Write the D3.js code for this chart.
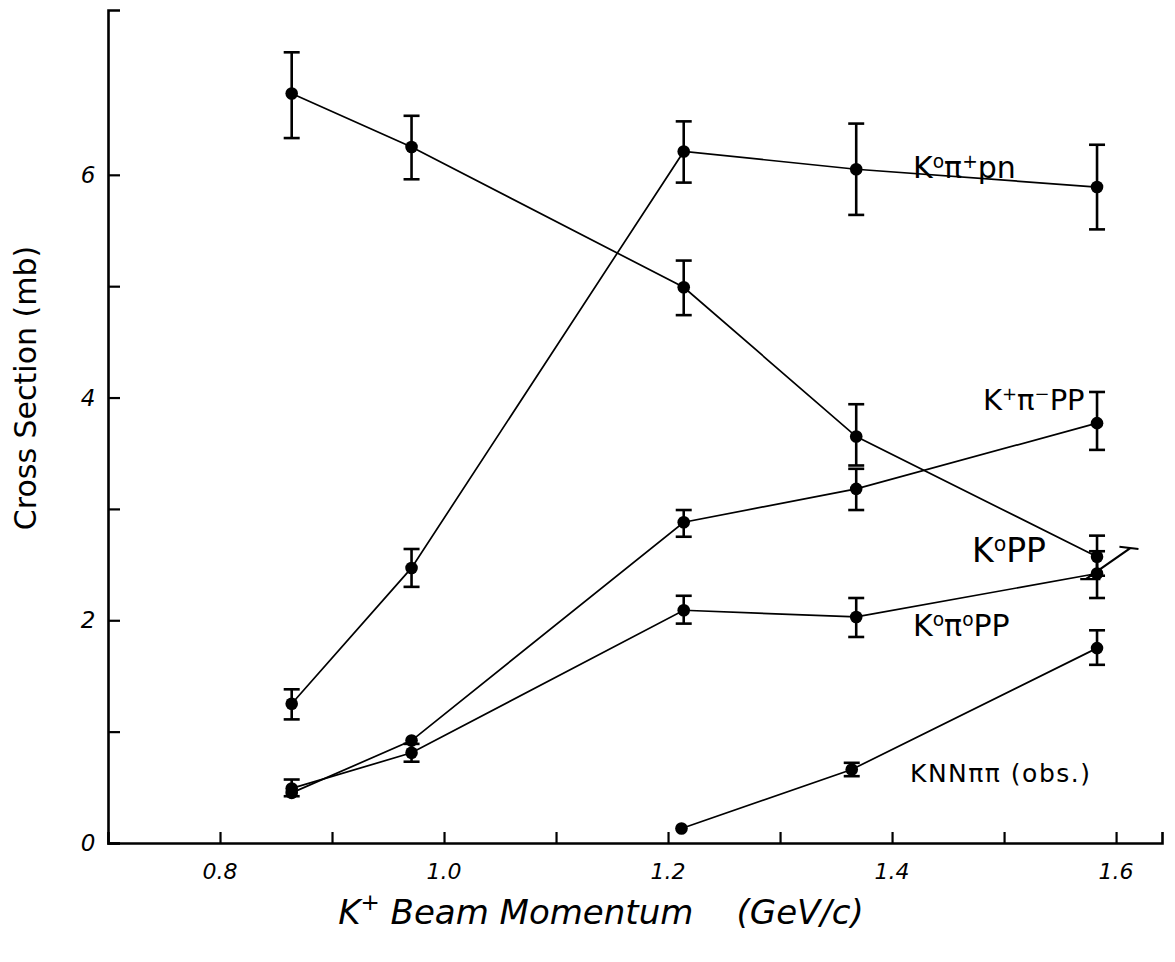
<!DOCTYPE html>
<html>
<head>
<meta charset="utf-8">
<script src="https://cdn.jsdelivr.net/npm/d3@7"></script>
<style>
  html, body { margin: 0; padding: 0; background: #fff; }
  svg { display: block; }
  text { fill: #000; font-family: "DejaVu Sans", sans-serif; white-space: pre; }
</style>
</head>
<body>
<svg id="chart" width="1175" height="962"></svg>
<script>
// Beam momentum of each exposure (GeV/c)
const momentum = [0.864, 0.971, 1.214, 1.368, 1.583];
const momentumHigh = [1.212, 1.364, 1.583];

// Cross sections (mb) with lower / upper ends of the error bars
const k0pp      = [6.73, 6.25, 4.99, 3.65, 2.57];
const k0ppLo    = [6.33, 5.96, 4.74, 3.39, 2.40];
const k0ppHi    = [7.10, 6.53, 5.23, 3.94, 2.76];

const k0pipn    = [1.25, 2.47, 6.21, 6.05, 5.89];
const k0pipnLo  = [1.11, 2.30, 5.93, 5.64, 5.51];
const k0pipnHi  = [1.38, 2.64, 6.48, 6.46, 6.27];

const kpimpp    = [0.45, 0.92, 2.88, 3.18, 3.77];
const kpimppLo  = [null, null, 2.75, 2.99, 3.53];
const kpimppHi  = [null, null, 2.99, 3.36, 4.05];

const k0pi0pp   = [0.49, 0.81, 2.09, 2.03, 2.42];
const k0pi0ppLo = [0.42, 0.73, 1.97, 1.85, 2.20];
const k0pi0ppHi = [0.57, 0.89, 2.22, 2.20, 2.62];

const knnpipi   = [0.13, 0.66, 1.75];
const knnpipiLo = [null, 0.60, 1.60];
const knnpipiHi = [null, 0.72, 1.91];

// Axis ticks and labels
const xTicks = [0.8, 0.9, 1.0, 1.1, 1.2, 1.3, 1.4, 1.5, 1.6];
const xTickLabels = ["0.8", "1.0", "1.2", "1.4", "1.6"];
const yTicks = [0, 1, 2, 3, 4, 5, 6];
const yTickLabels = ["0", "2", "4", "6"];

const svg = d3.select("#chart");

// Scales: 0.8 GeV/c at x=220, 0.1 GeV/c = 112 px; 1 mb = 111.3 px
const x = d3.scaleLinear().domain([0.7, 1.641]).range([108, 1162]);
const y = d3.scaleLinear().domain([0, 7.48]).range([843, 10]);

// Axes (ticks drawn inward, as on the hand-drawn plot)
const xAxis = d3.axisTop(x).tickValues(xTicks).tickSize(11).tickFormat("");
const yAxis = d3.axisRight(y).tickValues(yTicks).tickSize(12).tickFormat("");

const gx = svg.append("g").attr("transform", `translate(0,${y(0)})`).call(xAxis);
const gy = svg.append("g").attr("transform", `translate(${x(0.7)},0)`).call(yAxis);
[gx, gy].forEach(g => {
  g.select(".domain").attr("stroke", "#000").attr("stroke-width", 2.6);
  g.selectAll(".tick line").attr("stroke", "#000").attr("stroke-width", 2.2);
});

svg.append("g").selectAll("text").data(xTickLabels).join("text")
  .attr("x", d => x(+d))
  .attr("y", y(0) + 36)
  .attr("text-anchor", "middle")
  .attr("font-size", 22)
  .attr("font-style", "italic")
  .text(d => d);

svg.append("g").selectAll("text").data(yTickLabels).join("text")
  .attr("x", x(0.7) - 20)
  .attr("y", d => y(+d) + 8)
  .attr("text-anchor", "middle")
  .attr("font-size", 23)
  .attr("font-style", "italic")
  .text(d => d);

// Axis titles
const xt = svg.append("text")
  .attr("x", 601).attr("y", 924)
  .attr("text-anchor", "middle")
  .attr("font-size", 34)
  .attr("font-style", "italic");
xt.append("tspan").text("K");
xt.append("tspan").attr("font-size", 23).attr("dy", -14).text("+");
xt.append("tspan").attr("dy", 14).text(" Beam Momentum    (GeV/c)");

svg.append("text")
  .attr("transform", `translate(36,388) rotate(-90)`)
  .attr("text-anchor", "middle")
  .attr("font-size", 30)
  .text("Cross Section (mb)");

// Draws one reaction channel: connecting line, error bars, and dots
function drawSeries(xs, vals, lo, hi) {
  const pts = xs.map((m, i) => ({ m, v: vals[i], lo: lo[i], hi: hi[i] }));
  const g = svg.append("g");
  g.append("path")
    .datum(pts)
    .attr("fill", "none")
    .attr("stroke", "#000")
    .attr("stroke-width", 1.7)
    .attr("d", d3.line().x(d => x(d.m)).y(d => y(d.v)));
  const bars = pts.filter(d => d.lo !== null);
  g.selectAll("line.bar").data(bars).join("line")
    .attr("class", "bar")
    .attr("x1", d => x(d.m)).attr("x2", d => x(d.m))
    .attr("y1", d => y(d.lo)).attr("y2", d => y(d.hi))
    .attr("stroke", "#000").attr("stroke-width", 2.6);
  ["lo", "hi"].forEach(k => {
    g.selectAll("line.cap" + k).data(bars).join("line")
      .attr("class", "cap" + k)
      .attr("x1", d => x(d.m) - 8).attr("x2", d => x(d.m) + 8)
      .attr("y1", d => y(d[k])).attr("y2", d => y(d[k]))
      .attr("stroke", "#000").attr("stroke-width", 2.6);
  });
  g.selectAll("circle").data(pts).join("circle")
    .attr("cx", d => x(d.m)).attr("cy", d => y(d.v))
    .attr("r", 6.3).attr("fill", "#000");
}

drawSeries(momentum, k0pp, k0ppLo, k0ppHi);
drawSeries(momentum, k0pipn, k0pipnLo, k0pipnHi);
drawSeries(momentum, kpimpp, kpimppLo, kpimppHi);
drawSeries(momentum, k0pi0pp, k0pi0ppLo, k0pi0ppHi);
drawSeries(momentumHigh, knnpipi, knnpipiLo, knnpipiHi);

// Skewed bar stroke beside the K°pp / K°π°pp points at 1.58 GeV/c
const skewStroke = [[1.568, 2.37], [1.586, 2.37], [1.573, 2.37], [1.613, 2.65]];
const skewCap = [[1.603, 2.66], [1.62, 2.64]];
svg.append("path")
  .attr("d", `M${x(skewStroke[0][0])},${y(skewStroke[0][1])}L${x(skewStroke[1][0])},${y(skewStroke[1][1])}` +
             `M${x(skewStroke[2][0])},${y(skewStroke[2][1])}L${x(skewStroke[3][0])},${y(skewStroke[3][1])}` +
             `M${x(skewCap[0][0])},${y(skewCap[0][1])}L${x(skewCap[1][0])},${y(skewCap[1][1])}`)
  .attr("stroke", "#000").attr("stroke-width", 2.2).attr("fill", "none");

// Channel labels
function label(px, py, size, parts, spacing) {
  const t = svg.append("text").attr("x", px).attr("y", py).attr("font-size", size)
    .attr("letter-spacing", spacing || 0);
  parts.forEach(([s, sup]) => {
    if (sup) t.append("tspan").attr("font-size", size * 0.62).attr("baseline-shift", "55%").text(s);
    else t.append("tspan").text(s);
  });
}
label(913, 178, 30, [["K"], ["o", 1], ["π"], ["+", 1], ["pn"]]);
label(983, 410, 29, [["K"], ["+", 1], ["π"], ["−", 1], ["PP"]]);
label(972, 562, 33, [["K"], ["o", 1], ["PP"]]);
label(913, 636, 30, [["K"], ["o", 1], ["π"], ["o", 1], ["PP"]]);
label(910, 782, 25, [["KNNππ (obs.)"]], 1.5);
</script>
</body>
</html>
